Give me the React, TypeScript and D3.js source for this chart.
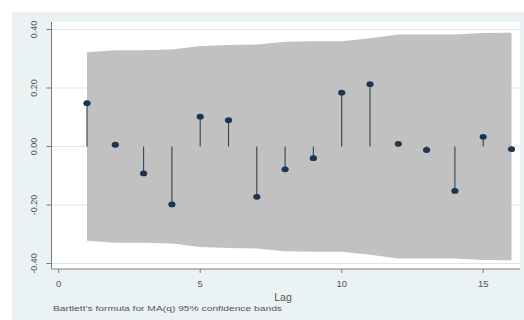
import React from "react";
import * as d3 from "d3";

const lags = [1, 2, 3, 4, 5, 6, 7, 8, 9, 10, 11, 12, 13, 14, 15, 16];
const acValues = [0.148, 0.006, -0.092, -0.198, 0.102, 0.09, -0.172, -0.078, -0.04, 0.184, 0.213, 0.009, -0.012, -0.152, 0.033, -0.009];
const bandValues = [0.322, 0.329, 0.329, 0.332, 0.344, 0.347, 0.349, 0.358, 0.36, 0.36, 0.37, 0.383, 0.383, 0.383, 0.388, 0.389];
const yTicks = [-0.4, -0.2, 0, 0.2, 0.4];
const yTickLabels = ["-0.40", "-0.20", "0.00", "0.20", "0.40"];
const xTicks = [0, 5, 10, 15];
const xTitle = "Lag";
const note = "Bartlett's formula for MA(q) 95% confidence bands";

const W = 524;
const H = 320;
const FONT = "'Liberation Sans', Arial, sans-serif";

export default function App() {
  const x = d3.scaleLinear().domain([0, 16]).range([58.7, 511.5]);
  const y = d3.scaleLinear().domain([-0.4, 0.4]).range([263.5, 29.5]);
  const plotLeft = 51.5;
  const plotRight = 520;
  const plotTop = 22;
  const plotBottom = 269;

  const bandData = lags.map((l, i) => ({ l, v: bandValues[i] }));
  const area = d3
    .area<{ l: number; v: number }>()
    .x((d) => x(d.l))
    .y0((d) => y(-d.v))
    .y1((d) => y(d.v));

  return (
    <svg
      width={W}
      height={H}
      style={{ position: "absolute", left: 0, top: 0 }}
      fontFamily={FONT}
    >
      <rect x={0} y={0} width={W} height={H} fill="#ffffff" />
      <rect x={12} y={12} width={W - 12} height={H - 12} fill="#eaf2f3" />
      <rect
        x={plotLeft}
        y={plotTop}
        width={plotRight - plotLeft}
        height={plotBottom - plotTop}
        fill="#ffffff"
      />
      {yTicks.map((t) => (
        <line
          key={"g" + t}
          x1={plotLeft}
          x2={plotRight}
          y1={y(t)}
          y2={y(t)}
          stroke="#dfe6e8"
          strokeWidth={1}
        />
      ))}
      <path d={area(bandData) || ""} fill="#c1c1c1" />
      {lags.map((l, i) => (
        <line
          key={"s" + l}
          x1={x(l)}
          x2={x(l)}
          y1={y(0)}
          y2={y(acValues[i])}
          stroke="#34424f"
          strokeWidth={1.1}
        />
      ))}
      {lags.map((l, i) => (
        <ellipse
          key={"m" + l}
          cx={x(l)}
          cy={y(acValues[i])}
          rx={3.6}
          ry={2.9}
          fill="#1c3550"
        />
      ))}
      {/* y axis */}
      <line x1={plotLeft} x2={plotLeft} y1={plotTop} y2={plotBottom} stroke="#7a7a7a" strokeWidth={1} />
      {yTicks.map((t, i) => (
        <g key={"yt" + t}>
          <line x1={plotLeft - 5} x2={plotLeft} y1={y(t)} y2={y(t)} stroke="#7a7a7a" strokeWidth={1} />
          <text
            transform={`translate(36.5,${y(t)}) rotate(-90)`}
            textAnchor="middle"
            fontSize={9}
            fill="#555"
          >
            {yTickLabels[i]}
          </text>
        </g>
      ))}
      {/* x axis */}
      <line x1={plotLeft} x2={plotRight} y1={plotBottom} y2={plotBottom} stroke="#7a7a7a" strokeWidth={1} />
      {xTicks.map((t) => (
        <g key={"xt" + t}>
          <line x1={x(t)} x2={x(t)} y1={plotBottom} y2={plotBottom + 4} stroke="#7a7a7a" strokeWidth={1} />
          <text x={x(t)} y={286.5} textAnchor="middle" fontSize={9.5} fill="#555">
            {t}
          </text>
        </g>
      ))}
      <text x={283} y={300.5} textAnchor="middle" fontSize={10.5} fill="#555">
        {xTitle}
      </text>
      <text x={53} y={311} fontSize={7.5} fill="#555" textLength={229} lengthAdjust="spacingAndGlyphs">
        {note}
      </text>
    </svg>
  );
}
